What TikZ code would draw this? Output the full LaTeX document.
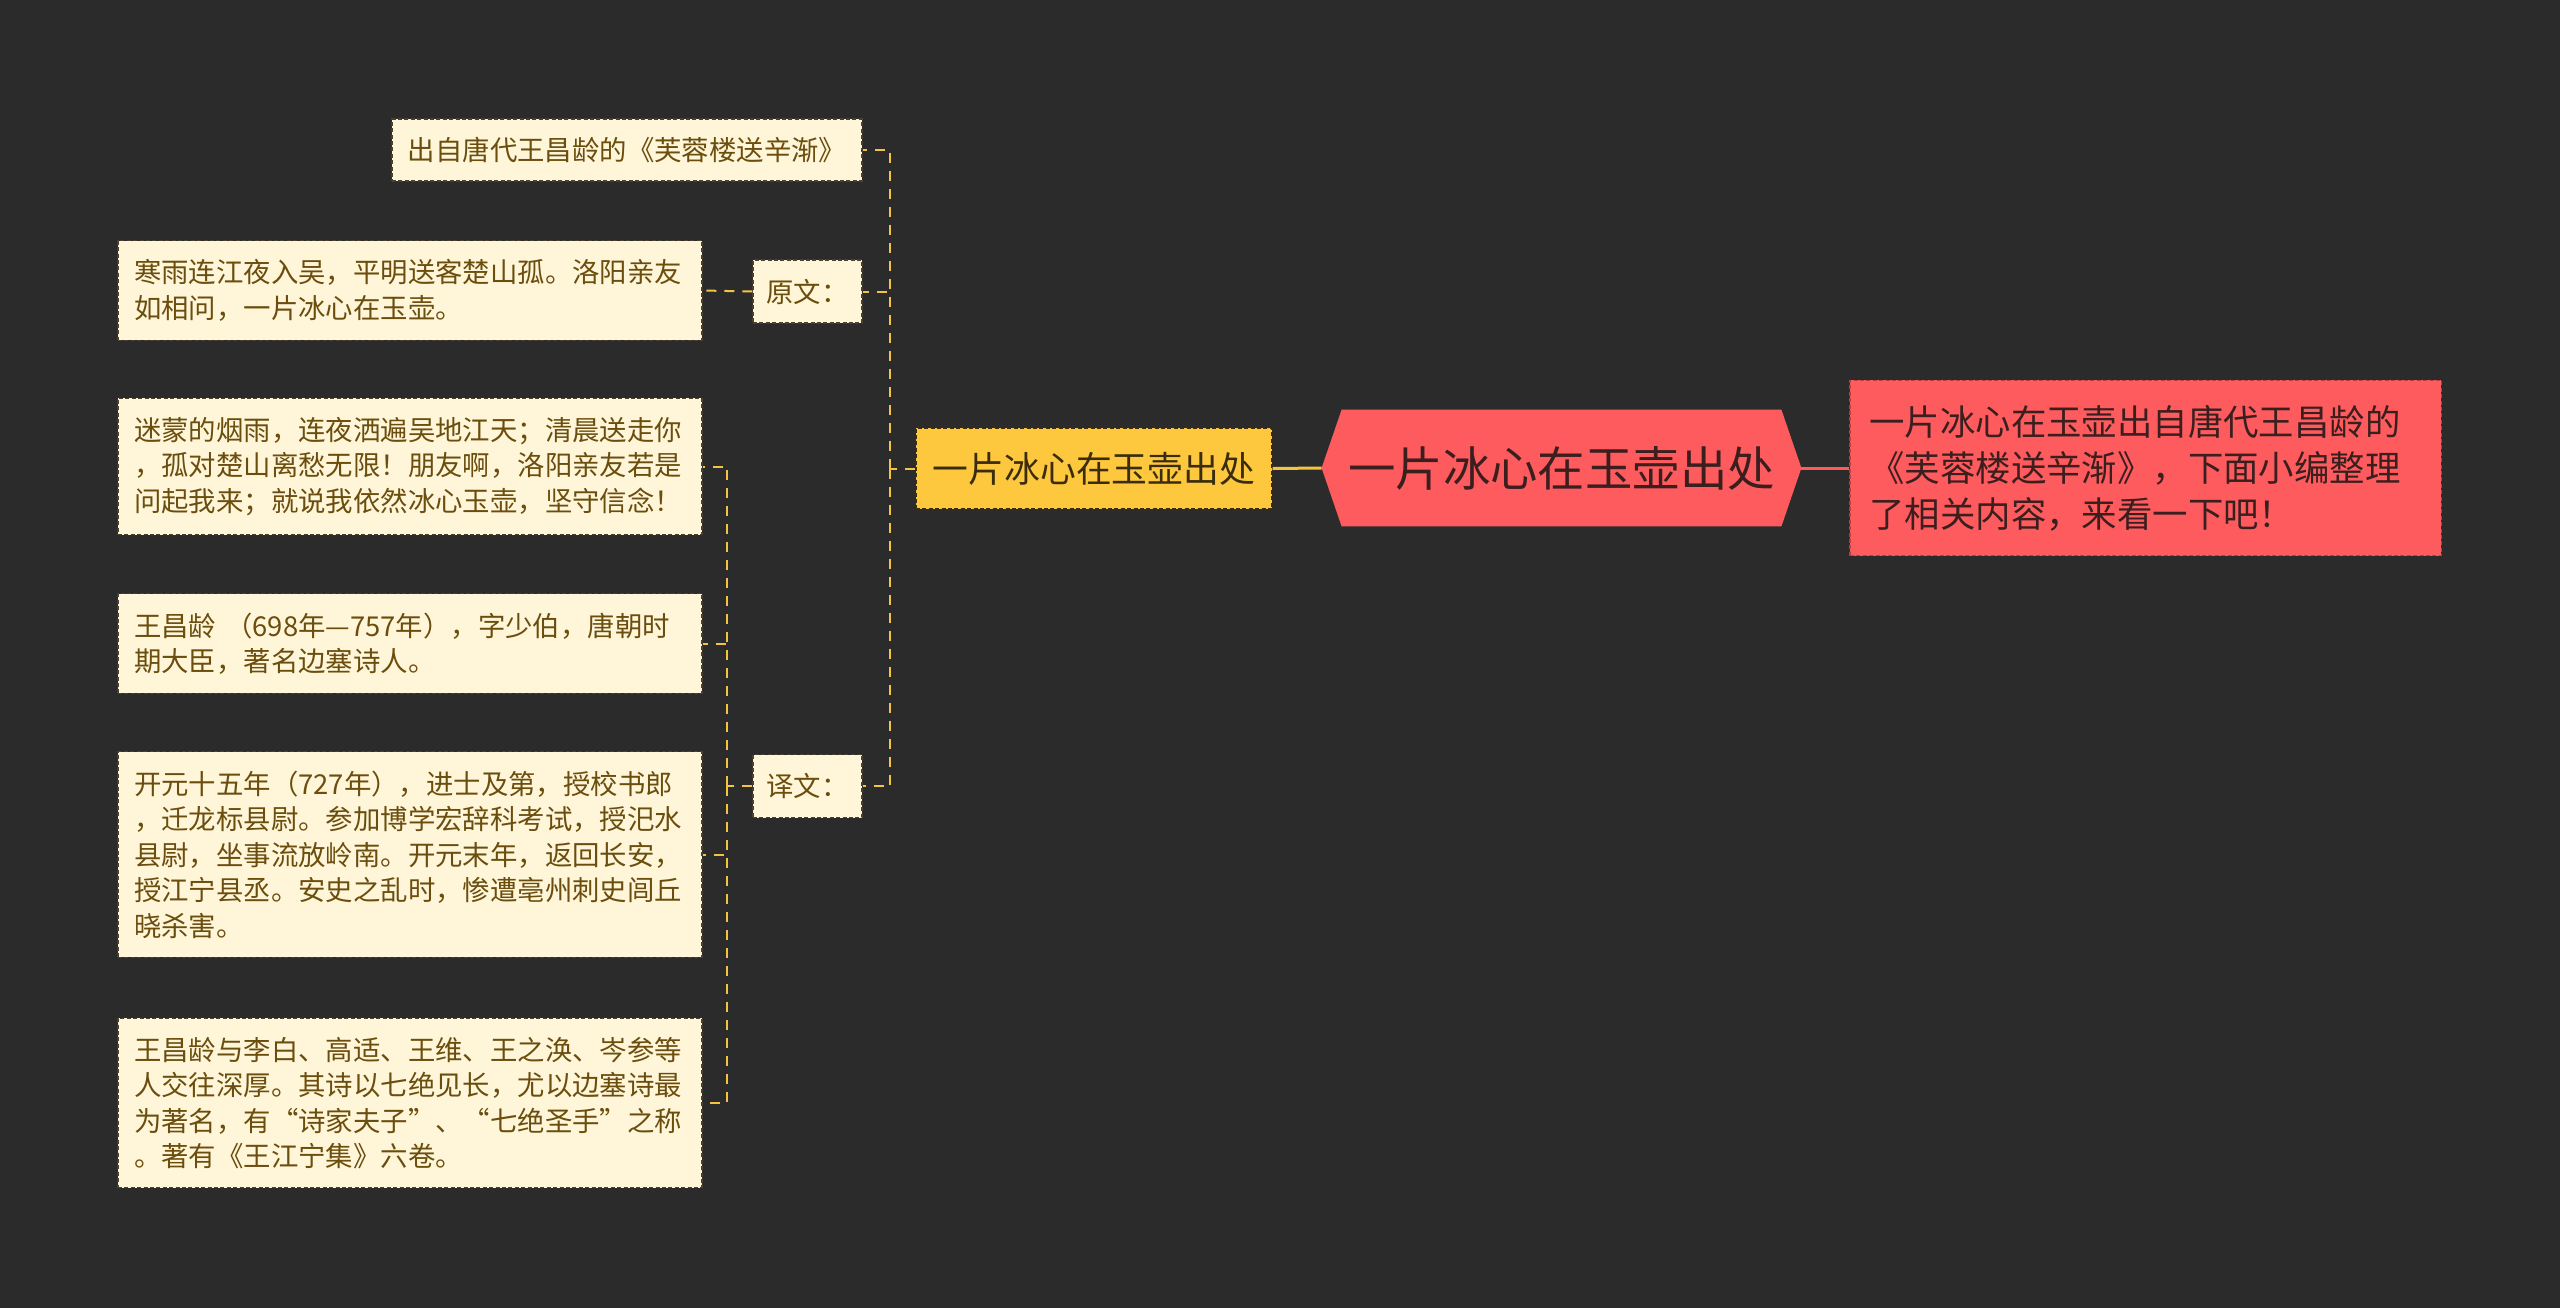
\documentclass[tikz,border=0pt]{standalone}
\usepackage{fontspec}
\newfontfamily\cjk{Noto Sans CJK SC}
\usetikzlibrary{positioning, backgrounds}

\definecolor{bgdark}{HTML}{2B2B2B}
\definecolor{cream}{HTML}{FFF6D9}
\definecolor{creamtext}{HTML}{6B4E0E}
\definecolor{creamedge}{HTML}{4A4030}
\definecolor{gold}{HTML}{FDC83D}
\definecolor{goldline}{HTML}{F3C443}
\definecolor{goldtext}{HTML}{3A2C0C}
\definecolor{rosered}{HTML}{FD5B5E}
\definecolor{roseedge}{HTML}{B83E40}
\definecolor{rosetext}{HTML}{3B1E1E}

\tikzset{
  boxbase/.style={draw=creamedge, fill=cream, text=creamtext, dash pattern=on 2pt off 1.2pt, line width=0.6pt, font=\cjk\fontsize{13.7}{17.75}\selectfont},
  leaf/.style={boxbase, inner xsep=8pt, inner ysep=9.4pt, text width=276pt, align=left},
  tagbox/.style={boxbase, minimum width=54.5pt, minimum height=31.5pt, inner sep=2pt},
  srcbox/.style={boxbase, minimum width=235pt, minimum height=31pt, inner sep=2pt},
  branch/.style={draw=goldtext, fill=gold, text=goldtext, dash pattern=on 2pt off 1.2pt, line width=0.6pt, minimum width=178pt, minimum height=40.5pt, inner sep=2pt, font=\cjk\fontsize{17.9}{22}\selectfont},
  rootbox/.style={text=rosetext, minimum width=239.5pt, minimum height=58pt, inner sep=2pt, font=\cjk\fontsize{23.7}{28}\selectfont},
  notebox/.style={draw=roseedge, fill=rosered, text=rosetext, dash pattern=on 2pt off 1.2pt, line width=0.6pt, text width=276pt, inner xsep=9.8pt, inner ysep=12.4pt, align=left, font=\cjk\fontsize{17.7}{23}\selectfont},
  link/.style={goldline, line width=1pt, dash pattern=on 5pt off 4pt}
}

\begin{document}
\begin{tikzpicture}[x=0.5pt, y=-0.5pt]
        \useasboundingbox (0,0) rectangle (2560,1308);
        \begin{scope}[on background layer]
          \fill[bgdark] (0,0) rectangle (2560,1308);
        \end{scope}

        % Centre and note
        \node[rootbox] (root) at (1561.5,468) {一片冰心在玉壶出处};
        \begin{scope}[on background layer]
          \fill[rosered] (root.west) -- ([xshift=10pt]root.north west) -- ([xshift=-10pt]root.north east) -- (root.east)
            -- ([xshift=-10pt]root.south east) -- ([xshift=10pt]root.south west) -- cycle;
        \end{scope}
        \node[notebox] (note) at (2145.5,468) {一片冰心在玉壶出自唐代王昌龄的\\《芙蓉楼送辛渐》，下面小编整理\\了相关内容，来看一下吧！};
        \node[branch] (topic) at (1094,468.5) {一片冰心在玉壶出处};

        % First level
        \node[srcbox] (src) at (627,150) {出自唐代王昌龄的《芙蓉楼送辛渐》};
        \node[tagbox] (orig) at (807.5,291.5) {原文：};
        \node[tagbox] (trans) at (807.5,786) {译文：};

        % Leaves
        \node[leaf] (poem) at (410,290.5) {寒雨连江夜入吴，平明送客楚山孤。洛阳亲友\\如相问，一片冰心在玉壶。};
        \node[leaf] (t1) at (410,466.5) {迷蒙的烟雨，连夜洒遍吴地江天；清晨送走你\\，孤对楚山离愁无限！朋友啊，洛阳亲友若是\\问起我来；就说我依然冰心玉壶，坚守信念！};
        \node[leaf] (t2) at (410,643.5) {王昌龄 （698年—757年），字少伯，唐朝时\\期大臣，著名边塞诗人。};
        \node[leaf] (t3) at (410,854.5) {开元十五年（727年），进士及第，授校书郎\\，迁龙标县尉。参加博学宏辞科考试，授汜水\\县尉，坐事流放岭南。开元末年，返回长安，\\授江宁县丞。安史之乱时，惨遭亳州刺史闾丘\\晓杀害。};
        \node[leaf] (t4) at (410,1103) {王昌龄与李白、高适、王维、王之涣、岑参等\\人交往深厚。其诗以七绝见长，尤以边塞诗最\\为著名，有“诗家夫子”、“七绝圣手”之称\\。著有《王江宁集》六卷。};

        % Links
        \draw[rosered, line width=1.5pt] (root.east) -- (note.west);
        \draw[goldline, line width=1.5pt] (topic.east) -- (root.west);
        \coordinate (gs) at (890,468.5);
        \draw[link] (topic.west) -- (gs);
        \draw[link] (gs) |- (src.east);
        \draw[link] (gs) |- (orig.east);
        \draw[link] (gs) |- (trans.east);
        \draw[link] (orig.west) -- (poem.east);
        \coordinate (ts) at (727,786);
        \draw[link] (trans.west) -- (ts);
        \draw[link] (ts) |- (t1.east);
        \draw[link] (ts) |- (t2.east);
        \draw[link] (ts) |- (t3.east);
        \draw[link] (ts) |- (t4.east);
      \end{tikzpicture}
\end{document}
